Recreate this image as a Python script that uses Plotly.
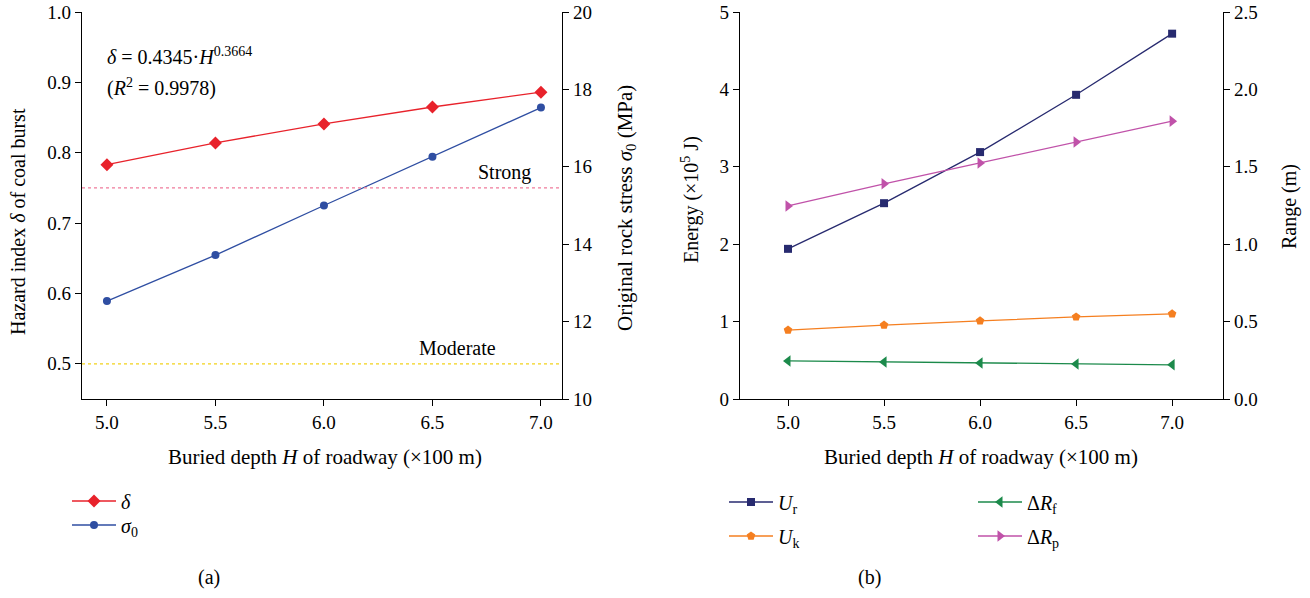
import plotly.graph_objects as go

H = [5.0, 5.5, 6.0, 6.5, 7.0]
delta = [0.783, 0.814, 0.841, 0.865, 0.886]
sigma0 = [12.53, 13.72, 15.0, 16.26, 17.53]
Ur = [1.94, 2.53, 3.19, 3.93, 4.72]
Uk = [0.89, 0.955, 1.01, 1.06, 1.10]
dRf = [0.246, 0.239, 0.233, 0.226, 0.221]
dRp = [1.247, 1.39, 1.525, 1.66, 1.795]
x_ticks = [5.0, 5.5, 6.0, 6.5, 7.0]
strong_level = 0.75
moderate_level = 0.5

W, HT = 1310, 598
FONT = "Liberation Serif"
FS = 20
TFS = 19

def px(x):
    return x / W

def py(y):
    return 1 - y / HT

fig = go.Figure()

# panel (a)
fig.add_trace(go.Scatter(x=H, y=delta, mode="lines+markers", name="<i>δ</i>",
                         line=dict(color="#e8222b", width=1.3),
                         marker=dict(symbol="diamond", size=10, color="#e8222b"),
                         xaxis="x", yaxis="y", legend="legend", showlegend=True))
fig.add_trace(go.Scatter(x=H, y=sigma0, mode="lines+markers", name="<i>σ</i><sub>0</sub>",
                         line=dict(color="#2f4ea2", width=1.3),
                         marker=dict(symbol="circle", size=8, color="#2f4ea2"),
                         xaxis="x", yaxis="y2", legend="legend2", showlegend=True))
# panel (b)
fig.add_trace(go.Scatter(x=H, y=Ur, mode="lines+markers", name="<i>U</i><sub>r</sub>",
                         line=dict(color="#272a6f", width=1.3),
                         marker=dict(symbol="square", size=8, color="#272a6f"),
                         xaxis="x2", yaxis="y3", legend="legend3", showlegend=True))
fig.add_trace(go.Scatter(x=H, y=Uk, mode="lines+markers", name="<i>U</i><sub>k</sub>",
                         line=dict(color="#f57f20", width=1.3),
                         marker=dict(symbol="pentagon", size=9, color="#f57f20"),
                         xaxis="x2", yaxis="y3", legend="legend4", showlegend=True))
fig.add_trace(go.Scatter(x=H, y=dRf, mode="lines+markers", name="Δ<i>R</i><sub>f</sub>",
                         line=dict(color="#1c8a4b", width=1.3),
                         marker=dict(symbol="triangle-left", size=10, color="#1c8a4b"),
                         xaxis="x2", yaxis="y4", legend="legend5", showlegend=True))
fig.add_trace(go.Scatter(x=H, y=dRp, mode="lines+markers", name="Δ<i>R</i><sub>p</sub>",
                         line=dict(color="#c052a9", width=1.3),
                         marker=dict(symbol="triangle-right", size=10, color="#c052a9"),
                         xaxis="x2", yaxis="y4", legend="legend6", showlegend=True))

ax_common = dict(showline=True, linecolor="black", linewidth=1.2, ticks="outside",
                 ticklen=6, tickwidth=1.2, tickcolor="black", showgrid=False,
                 zeroline=False, automargin=False,
                 tickfont=dict(family=FONT, size=TFS, color="black"))

yd = [py(399), py(12)]
fig.update_layout(
    width=W, height=HT, margin=dict(l=0, r=0, t=0, b=0, autoexpand=False),
    plot_bgcolor="white", paper_bgcolor="white", showlegend=True,
    font=dict(family=FONT, size=FS, color="black"),
    xaxis=dict(domain=[px(82), px(562)], range=[4.885, 7.097], anchor="y",
               tickvals=x_ticks, ticktext=["%.1f" % v for v in x_ticks], **ax_common),
    yaxis=dict(domain=yd, range=[0.45, 1.0], anchor="x", dtick=0.1, tickformat=".1f", **ax_common),
    yaxis2=dict(range=[10, 20], overlaying="y", side="right", anchor="x", dtick=2, **ax_common),
    xaxis2=dict(domain=[px(740), px(1223)], range=[4.75, 7.265], anchor="y3",
                tickvals=x_ticks, ticktext=["%.1f" % v for v in x_ticks], **ax_common),
    yaxis3=dict(domain=yd, range=[0, 5], anchor="x2", dtick=1, **ax_common),
    yaxis4=dict(range=[0, 2.5], overlaying="y3", side="right", anchor="x2", dtick=0.5,
                tickformat=".1f", **ax_common),
)

def leg(x, y):
    return dict(x=px(x), y=py(y), xanchor="left", yanchor="middle", bgcolor="rgba(0,0,0,0)",
                font=dict(family=FONT, size=FS, color="black"), itemwidth=44, visible=True)

fig.update_layout(legend=leg(67, 501), legend2=leg(67, 525),
                  legend3=leg(724, 502), legend4=leg(724, 536),
                  legend5=leg(973, 502), legend6=leg(973, 536))

# threshold lines
fig.add_shape(type="line", xref="x domain", yref="y", x0=0, x1=1, y0=strong_level, y1=strong_level,
              line=dict(color="#f07b9b", width=1.2, dash="dot"))
fig.add_shape(type="line", xref="x domain", yref="y", x0=0, x1=1, y0=moderate_level, y1=moderate_level,
              line=dict(color="#f2d21b", width=1.2, dash="dot"))

ann = []
def A(x, y, text, **kw):
    d = dict(x=px(x), y=py(y), xref="paper", yref="paper", text=text, showarrow=False,
             xanchor="center", yanchor="middle",
             font=dict(family=FONT, size=FS, color="black"))
    d.update(kw)
    ann.append(d)

XT = dict(family=FONT, size=21, color="black")
A(505, 172, "Strong")
A(457, 348, "Moderate")
A(105, 56, "<i>δ</i> = 0.4345·<i>H</i><sup>0.3664</sup>", xanchor="left")
A(105, 87, "(<i>R</i><sup>2</sup> = 0.9978)", xanchor="left")
A(18, 222, "Hazard index <i>δ</i> of coal burst", textangle=-90)
A(626, 208, "Original rock stress <i>σ</i><sub>0</sub> (MPa)", textangle=-90, font=XT)
A(690, 200, "Energy (×10<sup>5</sup> J)", textangle=-90)
A(1289, 207, "Range (m)", textangle=-90)
A(325, 457, "Buried depth <i>H</i> of roadway (×100 m)", font=XT)
A(981, 457, "Buried depth <i>H</i> of roadway (×100 m)", font=XT)
A(209, 577, "(a)")
A(869, 577, "(b)")
fig.update_layout(annotations=ann)

fig.write_html("out.html", post_script="document.body.style.margin='0';",
               config={"displayModeBar": False})
